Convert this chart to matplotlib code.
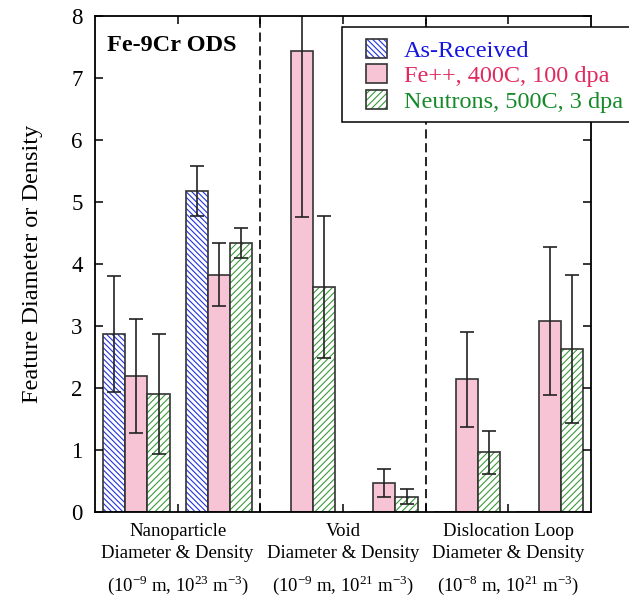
import matplotlib
matplotlib.use("Agg")
import matplotlib.pyplot as plt
import numpy as np
from matplotlib.patches import Patch, Rectangle
from matplotlib.legend_handler import HandlerTuple

plt.rcParams['font.family'] = 'Liberation Serif'
plt.rcParams['mathtext.fontset'] = 'custom'
plt.rcParams['mathtext.rm'] = 'Liberation Serif'
plt.rcParams['hatch.linewidth'] = 0.8

# six sub-groups: NP diameter, NP density, void diameter, void density, loop diameter, loop density
series = ['As-Received', 'Fe++, 400C, 100 dpa', 'Neutrons, 500C, 3 dpa']
as_recv = [2.87, 5.18, 0, 0, 0, 0]
as_recv_err = [0.93, 0.40, 0, 0, 0, 0]
fe_ion = [2.19, 3.83, 7.44, 0.47, 2.14, 3.08]
fe_ion_err = [0.92, 0.51, 2.68, 0.23, 0.77, 1.20]
neutron = [1.90, 4.34, 3.63, 0.25, 0.96, 2.63]
neutron_err = [0.97, 0.24, 1.14, 0.12, 0.34, 1.20]

group_names = ['Nanoparticle\nDiameter & Density', 'Void\nDiameter & Density',
               'Dislocation Loop\nDiameter & Density']
group_units = [r'(10$^{-9}$ m, 10$^{23}$ m$^{-3}$)', r'(10$^{-9}$ m, 10$^{21}$ m$^{-3}$)',
               r'(10$^{-8}$ m, 10$^{21}$ m$^{-3}$)']

fig = plt.figure(figsize=(6.29, 5.99), dpi=100)
ax = fig.add_axes([95/629, 1-512/599, 496/629, 496/599])

x = np.arange(6) + 0.5
w = 0.27
edge = '#333333'
styles = [
    dict(face='white', hcol='#2233dd', hatch='\\\\\\\\\\\\'),
    dict(face='#f6c4d4', hcol=None, hatch=None),
    dict(face='white', hcol='#3a9a3a', hatch='/////'),
]
data = [(as_recv, as_recv_err), (fe_ion, fe_ion_err), (neutron, neutron_err)]
handles = []
for i, ((vals, errs), st) in enumerate(zip(data, styles)):
    xs = x + (i - 1) * w
    if st['hatch']:
        ax.bar(xs, vals, w, facecolor='white', edgecolor=st['hcol'], hatch=st['hatch'], linewidth=0)
        ax.bar(xs, vals, w, facecolor='none', edgecolor=edge, linewidth=1.2)
        hp = (Patch(facecolor='white', edgecolor=st['hcol'], hatch=st['hatch'], linewidth=0),
              Patch(facecolor='none', edgecolor=edge, linewidth=1.2))
    else:
        ax.bar(xs, vals, w, facecolor=st['face'], edgecolor=edge, linewidth=1.2)
        hp = (Patch(facecolor=st['face'], edgecolor=edge, linewidth=1.2),)
    handles.append(hp)
    v = np.array(vals)
    e = np.array(errs)
    m = v > 0
    ax.errorbar(xs[m], v[m], yerr=e[m], fmt='none', ecolor='#222222', elinewidth=1.2,
                capsize=5, capthick=1.2)

for xd in [2, 4]:
    ax.axvline(xd, color='black', lw=1.2, dashes=(5.5, 2.8))

ax.set_xlim(0, 6)
ax.set_ylim(0, 8)
ax.set_xticks([1, 2, 3, 4, 5])
ax.set_xticklabels([])
ax.set_yticks(range(9))
ax.tick_params(axis='both', direction='in', length=6, width=1.1, top=True, right=True,
               labelsize=16.5, pad=9)
for s in ax.spines.values():
    s.set_linewidth(1.3)
ax.set_ylabel('Feature Diameter or Density', fontsize=17.5, labelpad=20)

ax.text(0.14, 7.52, 'Fe-9Cr ODS', fontsize=17.5, fontweight='bold', va='center')

for j, (nm, un) in enumerate(zip(group_names, group_units)):
    ax.text(2 * j + 1, -0.18, nm, ha='center', va='top', fontsize=13.5, linespacing=1.4)
    ax.text(2 * j + 1, -1.17, un, ha='center', va='center', fontsize=13.5)

# legend frame spills past the right edge like in the original
fig.add_artist(Rectangle((342/629, 1-122/599), 320/629, 95/599, transform=fig.transFigure,
                         facecolor='white', edgecolor='black', linewidth=1.1, zorder=4))
leg = fig.legend(handles, series, loc='upper left', bbox_to_anchor=(366/629, 1-39/599),
                 handler_map={tuple: HandlerTuple(ndivide=1)}, fontsize=17.5,
                 frameon=False, handlelength=0.86, handleheight=0.82, handletextpad=0.7,
                 borderpad=0, labelspacing=0.1, borderaxespad=0)
leg.set_zorder(5)
for t, c in zip(leg.get_texts(), ['#1515e0', '#e02a5e', '#168a2a']):
    t.set_color(c)

fig.savefig('out.png', dpi=100)
